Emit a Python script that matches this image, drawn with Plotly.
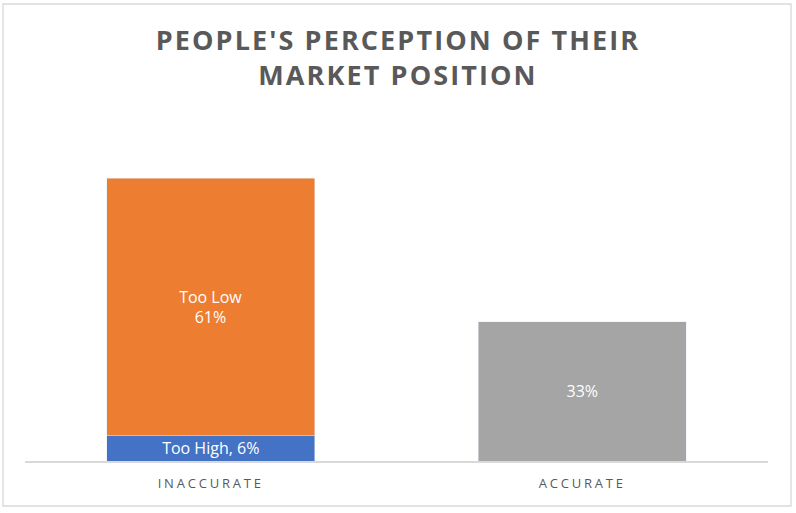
import plotly.graph_objects as go

categories = ["INACCURATE", "ACCURATE"]
too_high = [6, None]
too_low = [61, None]
accurate = [None, 33]
title_text = "PEOPLE'S PERCEPTION OF THEIR<br>MARKET POSITION"

fig = go.Figure()
fig.add_trace(go.Bar(
    x=categories, y=too_high, name="Too High",
    marker_color="#4472C4",
    text=["Too High, 6%", ""], textposition="inside", insidetextanchor="middle",
    constraintext="none",
    textfont=dict(color="white", size=16, family="Open Sans"),
))
fig.add_trace(go.Bar(
    x=categories, y=too_low, name="Too Low",
    marker_color="#ED7D31",
    text=["Too Low<br>61%", ""], textposition="inside", insidetextanchor="middle",
    textfont=dict(color="white", size=16, family="Open Sans"),
))
fig.add_trace(go.Bar(
    x=categories, y=accurate, name="Accurate",
    marker_color="#A5A5A5",
    text=["", "33%"], textposition="inside", insidetextanchor="middle",
    textfont=dict(color="white", size=16, family="Open Sans"),
))

fig.update_layout(
    width=796, height=513,
    barmode="stack", bargap=0.44,
    showlegend=False,
    paper_bgcolor="white", plot_bgcolor="white",
    margin=dict(l=25, r=28, t=130, b=52),
    title=dict(text=title_text, x=0.5, xanchor="center", y=0.9025, yanchor="top",
               font=dict(family="Open Sans", size=27, color="#595959", weight="bold")),
    uniformtext=dict(mode=False),
)
fig.update_xaxes(showline=True, linecolor="#d9d9d9", linewidth=1.5, ticks="",
                 tickfont=dict(family="Open Sans", size=13, color="#595959"),
                 ticklabelstandoff=10, showgrid=False)
fig.update_yaxes(visible=False, range=[0, 78.4], showgrid=False)

fig.add_shape(type="rect", xref="paper", yref="paper",
              x0=-0.0296, x1=1.031, y0=-0.136, y1=1.3807,
              line=dict(color="#d9d9d9", width=1.3), layer="below")

post = """
document.body.style.margin = '0';
var gd = document.getElementById('{plot_id}');
function spacing() {
  gd.querySelectorAll('.gtitle').forEach(function(e){ e.style.letterSpacing = '2.1px'; });
  gd.querySelectorAll('.xtick text').forEach(function(e){ e.style.letterSpacing = '2.8px'; });
}
spacing();
gd.on('plotly_afterplot', spacing);
"""

fig.write_html("out.html", post_script=post, config={"displayModeBar": False})
